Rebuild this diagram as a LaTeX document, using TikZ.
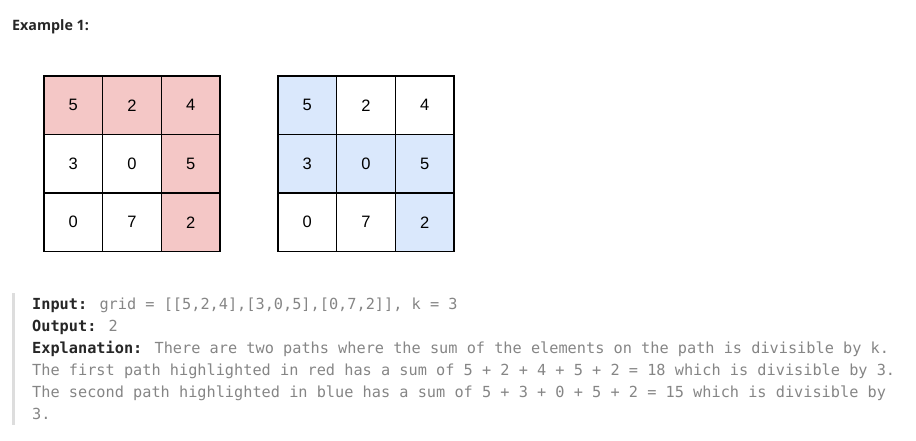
\documentclass[tikz,border=0pt]{standalone}
\usepackage{fontspec}
\setmainfont{Liberation Sans}
\newfontfamily\titlefont{Open Sans}
\newfontfamily\codefont{DejaVu Sans Mono}
\definecolor{redfill}{HTML}{F4C7C6}
\definecolor{bluefill}{HTML}{DAE8FC}
\definecolor{codegray}{HTML}{858585}
\definecolor{darktext}{HTML}{262626}
\definecolor{barcolor}{HTML}{DDDDDD}
\begin{document}
\begin{tikzpicture}[x=1pt,y=-1pt,
  cell/.style={draw=black, line width=1.4pt, minimum size=58.5pt, inner sep=0pt, font=\fontsize{16.5}{18}\selectfont, text=black},
  red/.style={cell, fill=redfill},
  blue/.style={cell, fill=bluefill},
  plain/.style={cell, fill=white},
  codeline/.style={anchor=base west, inner sep=0pt, font=\codefont\fontsize{15.25}{18}\selectfont, text=codegray},
  lbl/.style={text=darktext}
]
\useasboundingbox (0,0) rectangle (916,441);
\node[anchor=base west, inner sep=0pt, font=\titlefont\bfseries\fontsize{14.3}{16}\selectfont, text=darktext] (title) at (12,31) {Example 1:};

% grid 1
\node[red]   (a11) at (73.3,105.3) {5};
\node[red]   (a12) at (132,105.3) {2};
\node[red]   (a13) at (190.7,105.3) {4};
\node[plain] (a21) at (73.3,163.8) {3};
\node[plain] (a22) at (132,163.8) {0};
\node[red]   (a23) at (190.7,163.8) {5};
\node[plain] (a31) at (73.3,222.3) {0};
\node[plain] (a32) at (132,222.3) {7};
\node[red]   (a33) at (190.7,222.3) {2};

% grid 2
\node[blue]  (b11) at (307.3,105.3) {5};
\node[plain] (b12) at (366,105.3) {2};
\node[plain] (b13) at (424.7,105.3) {4};
\node[blue]  (b21) at (307.3,163.8) {3};
\node[blue]  (b22) at (366,163.8) {0};
\node[blue]  (b23) at (424.7,163.8) {5};
\node[plain] (b31) at (307.3,222.3) {0};
\node[plain] (b32) at (366,222.3) {7};
\node[blue]  (b33) at (424.7,222.3) {2};

% quote bar
\fill[barcolor] (12,293) rectangle (15,425);

\node[codeline] (l1) at (32,309) {\textcolor{darktext}{\textbf{Input:}} grid = [[5,2,4],[3,0,5],[0,7,2]], k = 3};
\node[codeline] (l2) at (32,331) {\textcolor{darktext}{\textbf{Output:}} 2};
\node[codeline] (l3) at (32,353) {\textcolor{darktext}{\textbf{Explanation:}} There are two paths where the sum of the elements on the path is divisible by k.};
\node[codeline] (l4) at (32,375) {The first path highlighted in red has a sum of 5 + 2 + 4 + 5 + 2 = 18 which is divisible by 3.};
\node[codeline] (l5) at (32,397) {The second path highlighted in blue has a sum of 5 + 3 + 0 + 5 + 2 = 15 which is divisible by};
\node[codeline] (l6) at (32,419) {3.};
\end{tikzpicture}
\end{document}
